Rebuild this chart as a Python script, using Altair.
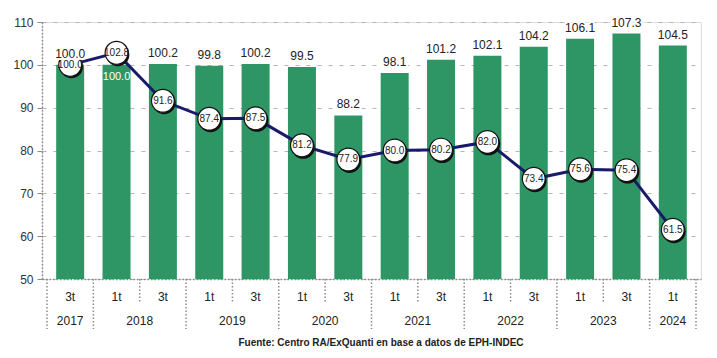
import altair as alt
import pandas as pd

years = ["2017", "2018", "2018", "2019", "2019", "2020", "2020",
         "2021", "2021", "2022", "2022", "2023", "2023", "2024"]
quarters = ["3t", "1t", "3t", "1t", "3t", "1t", "3t",
            "1t", "3t", "1t", "3t", "1t", "3t", "1t"]
bar_values = [100.0, 100.0, 100.2, 99.8, 100.2, 99.5, 88.2,
              98.1, 101.2, 102.1, 104.2, 106.1, 107.3, 104.5]
line_values = [100.0, 102.8, 91.6, 87.4, 87.5, 81.2, 77.9,
               80.0, 80.2, 82.0, 73.4, 75.6, 75.4, 61.5]
y_ticks = [50, 60, 70, 80, 90, 100, 110]
source_text = "Fuente: Centro RA/ExQuanti en base a datos de EPH-INDEC"

n = len(years)
df = pd.DataFrame({
    "i": list(range(n)),
    "year": years,
    "q": quarters,
    "bar": bar_values,
    "line": line_values,
})
df["bar_lbl"] = [f"{v:.1f}" for v in bar_values]
df["line_lbl"] = [f"{v:.1f}" for v in line_values]
# label of the 2018-1t bar sits inside the bar (circle covers the top)
df["inside"] = [False, True] + [False] * (n - 2)

# separators
intra = [i + 0.5 for i in range(n - 1) if years[i] == years[i + 1]]
inter = [-0.5] + [i + 0.5 for i in range(n - 1) if years[i] != years[i + 1]] + [n - 0.5]
intra_df = pd.DataFrame({"b": intra})
inter_df = pd.DataFrame({"b": inter})
year_df = df.groupby("year", as_index=False)["i"].mean()
src_df = pd.DataFrame({"t": [source_text]})

W, H = 659, 257
GREEN = "#2e9664"
NAVY = "#1a1a6c"
GRAY = "#8a8a8a"

xscale = alt.Scale(domain=[-0.5, n - 0.5], nice=False, zero=False)
yscale = alt.Scale(domain=[50, 110], nice=False, zero=False)
xaxis = alt.Axis(labels=False, ticks=False, grid=False, title=None,
                 domainDash=[1.5, 2], domainColor=GRAY, domainWidth=1.5)
yaxis = alt.Axis(values=y_ticks, title=None, grid=True, gridDash=[4, 7],
                 gridColor="#b5b5b5", domainDash=[1.5, 2], domainColor=GRAY,
                 domainWidth=1.5, tickColor=GRAY, tickSize=5, labelFontSize=12,
                 labelColor="#333333", labelPadding=4)

X = alt.X("i:Q", scale=xscale, axis=xaxis)

bars = alt.Chart(df).mark_bar(size=28, color=GREEN).encode(
    x=X, y=alt.Y("bar:Q", scale=yscale, axis=yaxis), y2=alt.datum(50))

bar_halo = alt.Chart(df).transform_filter("!datum.inside").mark_text(
    fontSize=12, color="#ffffff", stroke="#ffffff", strokeWidth=4,
    baseline="middle", dy=-11).encode(
    x=X, y=alt.Y("bar:Q", scale=yscale, axis=yaxis), text="bar_lbl:N")

bar_lbl = alt.Chart(df).transform_filter("!datum.inside").mark_text(
    fontSize=12, color="#222222", baseline="middle", dy=-11).encode(
    x=X, y=alt.Y("bar:Q", scale=yscale, axis=yaxis), text="bar_lbl:N")

bar_lbl_in = alt.Chart(df).transform_filter("datum.inside").mark_text(
    fontSize=11, color="#ffffff", baseline="middle", dy=12).encode(
    x=X, y=alt.Y("bar:Q", scale=yscale, axis=yaxis), text="bar_lbl:N")

ln = alt.Chart(df).mark_line(color=NAVY, strokeWidth=3).encode(
    x=X, y=alt.Y("line:Q", scale=yscale, axis=yaxis))

shadow = alt.Chart(df).mark_circle(size=540, color="#111111", opacity=1,
                                   xOffset=1.2, yOffset=1.8).encode(
    x=X, y=alt.Y("line:Q", scale=yscale, axis=yaxis))

circ = alt.Chart(df).mark_point(shape="circle", size=520, filled=True,
                                fill="#ffffff", stroke="#111111",
                                strokeWidth=1.2, opacity=1).encode(
    x=X, y=alt.Y("line:Q", scale=yscale, axis=yaxis))

circ_lbl = alt.Chart(df).mark_text(fontSize=10, color="#222222",
                                   baseline="middle").encode(
    x=X, y=alt.Y("line:Q", scale=yscale, axis=yaxis), text="line_lbl:N")

q_lbl = alt.Chart(df).mark_text(fontSize=12, color="#222222",
                                baseline="middle").encode(
    x=X, y=alt.value(H + 18), text="q:N")

yr_lbl = alt.Chart(year_df).mark_text(fontSize=12, color="#222222",
                                      baseline="middle").encode(
    x=X, y=alt.value(H + 42), text="year:N")

rule_intra = alt.Chart(intra_df).mark_rule(color=GRAY, strokeWidth=1.5,
                                           strokeDash=[1.5, 2]).encode(
    x=alt.X("b:Q", scale=xscale, axis=xaxis), y=alt.value(H), y2=alt.value(H + 24))

rule_inter = alt.Chart(inter_df).mark_rule(color=GRAY, strokeWidth=1.5,
                                           strokeDash=[1.5, 2]).encode(
    x=alt.X("b:Q", scale=xscale, axis=xaxis), y=alt.value(H), y2=alt.value(H + 50))

src = alt.Chart(src_df).mark_text(fontSize=10, fontWeight="bold",
                                  color="#222222", align="center",
                                  baseline="middle").encode(
    x=alt.value(339), y=alt.value(H + 64), text="t:N")

chart = alt.layer(
    bars, bar_lbl_in, ln, shadow, circ, circ_lbl, bar_halo, bar_lbl,
    rule_intra, rule_inter, q_lbl, yr_lbl, src
).properties(
    width=W, height=H,
    autosize=alt.AutoSizeParams(type="none"),
    padding={"left": 34, "top": 14, "right": 4, "bottom": 70},
).configure_view(stroke=None).configure(font="Liberation Sans")

chart.save("out.html", embed_options={"renderer": "svg", "actions": False})
